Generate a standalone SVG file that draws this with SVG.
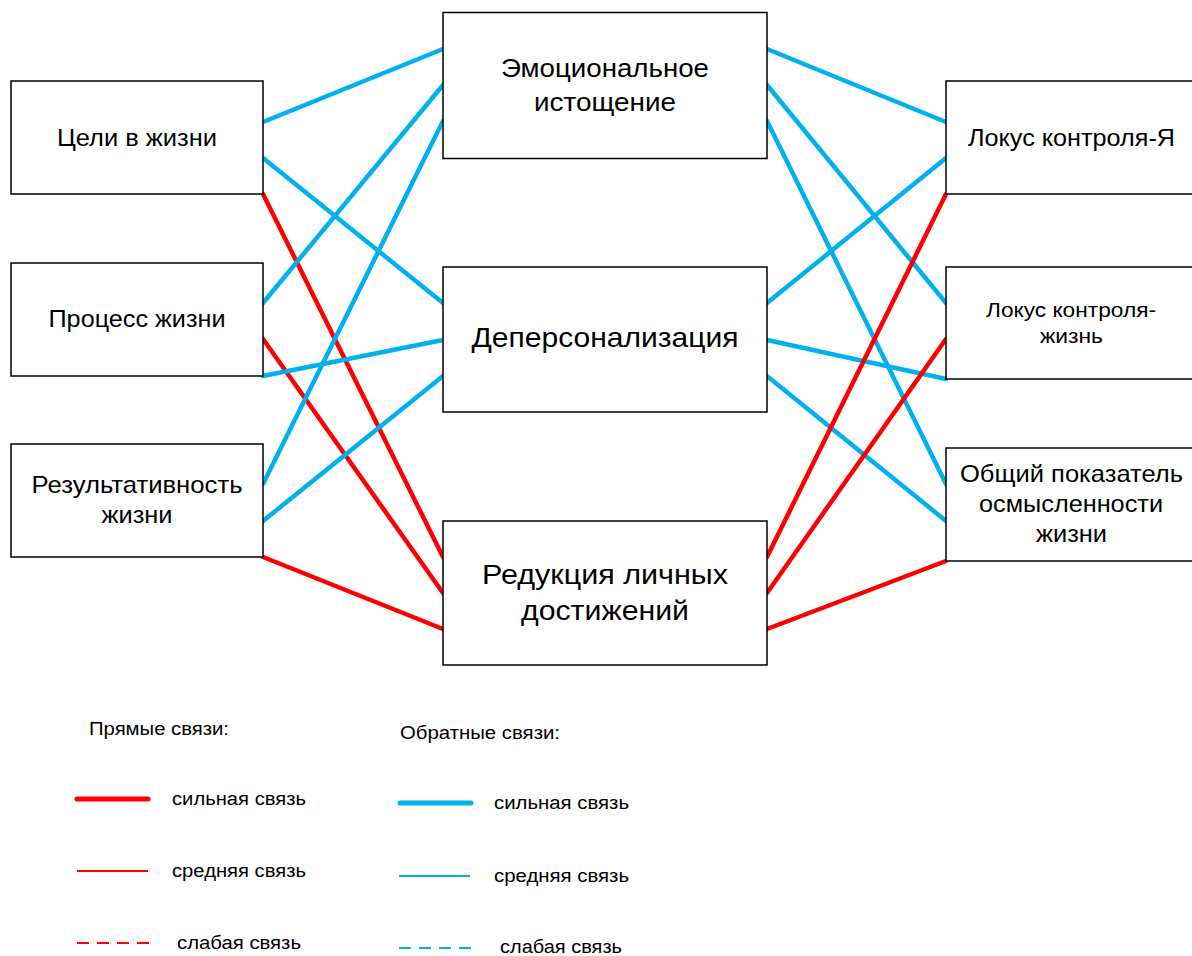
<svg xmlns="http://www.w3.org/2000/svg" width="1192" height="956" viewBox="0 0 1192 956">
<style>
.box{fill:#fff;stroke:#000;stroke-width:1.5}
.t{font-family:"Liberation Sans",Arial,sans-serif;fill:#000;text-anchor:middle}
.b{stroke:#00B0F0;stroke-width:4.5;stroke-linecap:round;fill:none}
.r{stroke:#FF0000;stroke-width:4.5;stroke-linecap:round;fill:none}
.lg{font-family:"Liberation Sans",Arial,sans-serif;fill:#000;font-size:18px}
</style>
<rect width="1192" height="956" fill="#fff"/>
<g id="connectors">
<line class="b" x1="263" y1="122" x2="443" y2="49"/>
<line class="b" x1="263" y1="158" x2="443" y2="303"/>
<line class="r" x1="263" y1="194" x2="443" y2="557"/>
<line class="b" x1="263" y1="303" x2="443" y2="85"/>
<line class="r" x1="263" y1="339" x2="443" y2="593"/>
<line class="b" x1="263" y1="376" x2="443" y2="340"/>
<line class="b" x1="263" y1="484" x2="443" y2="121"/>
<line class="b" x1="263" y1="521" x2="443" y2="376"/>
<line class="r" x1="263" y1="557" x2="443" y2="629"/>
<line class="b" x1="767" y1="49" x2="946" y2="122"/>
<line class="b" x1="767" y1="85" x2="946" y2="303"/>
<line class="b" x1="767" y1="121" x2="946" y2="484"/>
<line class="b" x1="767" y1="303" x2="946" y2="158"/>
<line class="b" x1="767" y1="340" x2="946" y2="379"/>
<line class="b" x1="767" y1="376" x2="946" y2="521"/>
<line class="r" x1="767" y1="557" x2="946" y2="194"/>
<line class="r" x1="767" y1="593" x2="946" y2="339"/>
<line class="r" x1="767" y1="629" x2="946" y2="561"/>
</g>
<g id="n-goals"><rect class="box" x="11" y="81" width="252" height="113"/>
<text class="t" x="137" y="146" font-size="24" textLength="160" lengthAdjust="spacingAndGlyphs">Цели в жизни</text></g>
<g id="n-process"><rect class="box" x="11" y="263" width="252" height="113"/>
<text class="t" x="137" y="327" font-size="24" textLength="177" lengthAdjust="spacingAndGlyphs">Процесс жизни</text></g>
<g id="n-result"><rect class="box" x="11" y="444" width="252" height="113"/>
<text class="t" x="137" y="493" font-size="24" textLength="211" lengthAdjust="spacingAndGlyphs">Результативность</text>
<text class="t" x="137" y="523" font-size="24" textLength="71" lengthAdjust="spacingAndGlyphs">жизни</text></g>
<g id="n-emo"><rect class="box" x="443" y="12.5" width="324" height="146"/>
<text class="t" x="605" y="77" font-size="25" textLength="208" lengthAdjust="spacingAndGlyphs">Эмоциональное</text>
<text class="t" x="605" y="110.5" font-size="25" textLength="142" lengthAdjust="spacingAndGlyphs">истощение</text></g>
<g id="n-depers"><rect class="box" x="443" y="267" width="324" height="145"/>
<text class="t" x="605" y="347" font-size="28" textLength="267" lengthAdjust="spacingAndGlyphs">Деперсонализация</text></g>
<g id="n-reduct"><rect class="box" x="443" y="521" width="324" height="144"/>
<text class="t" x="605" y="584" font-size="27" textLength="246" lengthAdjust="spacingAndGlyphs">Редукция личных</text>
<text class="t" x="605" y="620" font-size="27" textLength="168" lengthAdjust="spacingAndGlyphs">достижений</text></g>
<g id="n-locus-self"><rect class="box" x="946" y="81" width="252" height="113"/>
<text class="t" x="1071.5" y="146" font-size="23" textLength="207" lengthAdjust="spacingAndGlyphs">Локус контроля-Я</text></g>
<g id="n-locus-life"><rect class="box" x="946" y="267" width="252" height="112"/>
<text class="t" x="1071" y="317" font-size="20.5" textLength="170" lengthAdjust="spacingAndGlyphs">Локус контроля-</text>
<text class="t" x="1071.5" y="343" font-size="20.5" textLength="63" lengthAdjust="spacingAndGlyphs">жизнь</text></g>
<g id="n-total"><rect class="box" x="946" y="448" width="252" height="113"/>
<text class="t" x="1071.5" y="482" font-size="24" textLength="223" lengthAdjust="spacingAndGlyphs">Общий показатель</text>
<text class="t" x="1071" y="512" font-size="24" textLength="184" lengthAdjust="spacingAndGlyphs">осмысленности</text>
<text class="t" x="1071.5" y="542" font-size="24" textLength="71" lengthAdjust="spacingAndGlyphs">жизни</text></g>
<g id="legend">
<text class="lg" x="89" y="735" textLength="140" lengthAdjust="spacingAndGlyphs">Прямые связи:</text>
<text class="lg" x="400" y="739" textLength="160" lengthAdjust="spacingAndGlyphs">Обратные связи:</text>
<line x1="77" y1="799" x2="148" y2="799" stroke="#FF0000" stroke-width="5" stroke-linecap="round"/>
<text class="lg" x="172" y="805" textLength="134" lengthAdjust="spacingAndGlyphs">сильная связь</text>
<line x1="77" y1="871" x2="148" y2="871" stroke="#FF0000" stroke-width="2"/>
<text class="lg" x="172" y="877" textLength="134" lengthAdjust="spacingAndGlyphs">средняя связь</text>
<line x1="77" y1="943" x2="149" y2="943" stroke="#FF0000" stroke-width="2" stroke-dasharray="12 8"/>
<text class="lg" x="177" y="949" textLength="124" lengthAdjust="spacingAndGlyphs">слабая связь</text>
<line x1="400" y1="803" x2="471" y2="803" stroke="#00B0F0" stroke-width="5" stroke-linecap="round"/>
<text class="lg" x="494" y="809" textLength="135" lengthAdjust="spacingAndGlyphs">сильная связь</text>
<line x1="399" y1="876" x2="470" y2="876" stroke="#00B0F0" stroke-width="2"/>
<text class="lg" x="494" y="882" textLength="135" lengthAdjust="spacingAndGlyphs">средняя связь</text>
<line x1="399" y1="948" x2="472" y2="948" stroke="#00B0F0" stroke-width="2" stroke-dasharray="12 8"/>
<text class="lg" x="500" y="953" textLength="122" lengthAdjust="spacingAndGlyphs">слабая связь</text>
</g>
</svg>
